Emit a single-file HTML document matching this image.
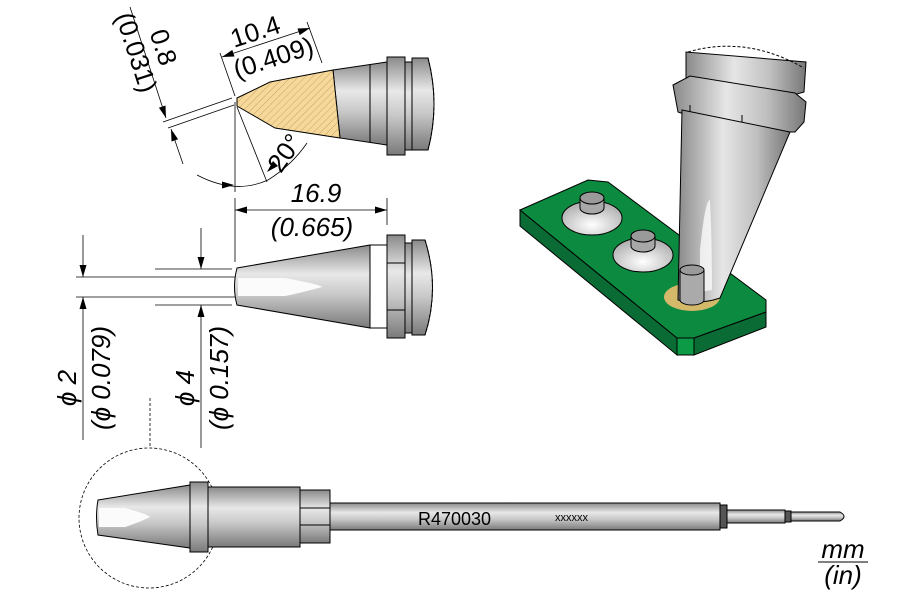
<!DOCTYPE html>
<html><head><meta charset="utf-8"><style>
html,body{margin:0;padding:0;background:#fff;}
svg{display:block;font-family:"Liberation Sans",sans-serif;}
</style></head><body>
<svg width="900" height="600" viewBox="0 0 900 600" xmlns="http://www.w3.org/2000/svg">
<defs>
<linearGradient id="gv" x1="0" y1="0" x2="0" y2="1">
<stop offset="0" stop-color="#8a8a8a"/><stop offset="0.35" stop-color="#e8e8e8"/><stop offset="0.6" stop-color="#c8c8c8"/><stop offset="1" stop-color="#7a7a7a"/></linearGradient>
<linearGradient id="gh" x1="0" y1="0" x2="1" y2="0">
<stop offset="0" stop-color="#8a8a8a"/><stop offset="0.4" stop-color="#e6e6e6"/><stop offset="0.7" stop-color="#c0c0c0"/><stop offset="1" stop-color="#777"/></linearGradient>
<radialGradient id="hole" cx="0.5" cy="0.7" r="0.6"><stop offset="0" stop-color="#fff"/><stop offset="1" stop-color="#b5b5b5"/></radialGradient>
<pattern id="hatch" width="5" height="5" patternUnits="userSpaceOnUse" patternTransform="rotate(45)">
<rect width="5" height="5" fill="#f6d99a"/><line x1="0" y1="0" x2="0" y2="5" stroke="#b8965a" stroke-width="0.8"/></pattern>
</defs>
<g stroke="#000" stroke-width="1" fill="none">
<path d="M333,70 L387,62 L387,145 L340,138 Z" fill="url(#gv)"/>
<line x1="370" y1="64" x2="370" y2="142"/>
<path d="M237,98 L270,82 L333,70 L340,138 L275,128 L237,106 Z" fill="url(#hatch)"/>
<rect x="387" y="57" width="18" height="98" fill="url(#gv)"/>
<rect x="405" y="62" width="7" height="88" fill="url(#gv)"/>
<path d="M412,58 L428,58 Q440,104 428,150 L412,150 Z" fill="url(#gv)"/>
<path d="M428,58 Q440,104 428,150" stroke-dasharray="3,2"/>
<line x1="232" y1="98" x2="163" y2="122" stroke-width="0.8"/>
<line x1="234" y1="105" x2="168" y2="128" stroke-width="0.8"/>
<line x1="130" y1="7" x2="166" y2="118" stroke-width="0.8"/>
<line x1="183" y1="164" x2="171" y2="129" stroke-width="0.8"/>
<line x1="220" y1="53" x2="235" y2="96" stroke-width="0.8"/>
<line x1="307" y1="22" x2="322" y2="63" stroke-width="0.8"/>
<line x1="222" y1="57" x2="310" y2="28" stroke-width="0.8"/>
<line x1="235" y1="102" x2="235" y2="192" stroke-width="0.8"/>
<line x1="237" y1="107" x2="267" y2="182" stroke-width="0.8"/>
<path d="M197,175 Q235,195 268,180" stroke-width="0.8"/>
<path d="M268,180 Q292,165 307,143" stroke-width="0.8"/>
<line x1="235" y1="198" x2="235" y2="262" stroke-width="0.8"/>
<line x1="387" y1="198" x2="387" y2="225" stroke-width="0.8"/>
<line x1="235" y1="210" x2="387" y2="210" stroke-width="0.8"/>
<path d="M237,268 L370,245 L370,328 L237,305 Q232,287 237,268 Z" fill="url(#gv)"/>
<path d="M238,278 L285,278 Q322,285 322,287 Q300,293 285,296 L238,296 Z" fill="#fbfbfb" stroke="none"/>
<rect x="387" y="235" width="18" height="103" fill="url(#gv)"/>
<line x1="387" y1="263" x2="405" y2="263"/><line x1="387" y1="310" x2="405" y2="310"/>
<rect x="405" y="243" width="7" height="90" fill="url(#gv)"/>
<path d="M412,240 L425,240 Q440,288 425,335 L412,335 Z" fill="url(#gv)"/>
<path d="M425,240 Q440,288 425,335" stroke-dasharray="3,2"/>
<line x1="370" y1="245" x2="387" y2="245"/><line x1="370" y1="328" x2="387" y2="328"/>
<line x1="76" y1="277" x2="235" y2="277" stroke-width="0.8"/>
<line x1="76" y1="297" x2="235" y2="297" stroke-width="0.8"/>
<line x1="155" y1="269" x2="232" y2="269" stroke-width="0.8"/>
<line x1="155" y1="305" x2="232" y2="305" stroke-width="0.8"/>
<line x1="83" y1="235" x2="83" y2="277" stroke-width="0.8"/>
<line x1="83" y1="440" x2="83" y2="297" stroke-width="0.8"/>
<line x1="201" y1="228" x2="201" y2="269" stroke-width="0.8"/>
<line x1="201" y1="448" x2="201" y2="305" stroke-width="0.8"/>
<line x1="150" y1="398" x2="150" y2="448" stroke-dasharray="3,2" stroke-width="0.8"/>
<circle cx="149" cy="518" r="70" stroke-dasharray="3,2" stroke-width="0.8"/>
<path d="M98,500 L190,485 L190,548 L98,535 Q95,517 98,500 Z" fill="url(#gv)"/>
<path d="M99,508 L125,508 Q150,515 150,517 Q140,522 125,527 L99,527 Z" fill="#fbfbfb" stroke="none"/>
<rect x="190" y="482" width="18" height="70" fill="url(#gv)"/>
<rect x="208" y="487" width="92" height="60" fill="url(#gv)"/>
<rect x="300" y="490" width="30" height="53" fill="url(#gv)"/>
<line x1="300" y1="508" x2="330" y2="508"/><line x1="300" y1="525" x2="330" y2="525"/>
<rect x="330" y="503" width="390" height="27" fill="url(#gv)"/>
<rect x="720" y="505" width="7" height="23" fill="#555"/>
<rect x="727" y="510" width="58" height="13" fill="url(#gv)"/>
<rect x="785" y="511" width="6" height="11" fill="#555"/>
<path d="M791,512 L840,512 Q848,516.5 840,521 L791,521 Z" fill="url(#gv)"/>
<polygon points="520,210 677,338 677,355 520,226" fill="#0a6b34"/>
<polygon points="677,338 694,338 694,355 677,355" fill="#0d9a47"/>
<polygon points="694,338 766,312 766,327 694,355" fill="#0a6b34"/>
<polygon points="520,210 588,180 608,182 766,300 766,312 694,338 677,338" fill="#0b8a40"/>
<ellipse cx="592" cy="218" rx="30" ry="17" fill="url(#hole)"/>
<path d="M580,198 L580,208 A12,6 0 0 0 604,208 L604,198" fill="#a8a8a8"/>
<ellipse cx="592" cy="198" rx="12" ry="6" fill="#9a9a9a"/>
<ellipse cx="643" cy="255" rx="30" ry="17" fill="url(#hole)"/>
<path d="M631,236 L631,246 A12,6 0 0 0 655,246 L655,236" fill="#a8a8a8"/>
<ellipse cx="643" cy="236" rx="12" ry="6" fill="#9a9a9a"/>
<ellipse cx="692" cy="297" rx="28" ry="14" fill="#d4b96a" stroke="none"/>
<path d="M686,52 L686,90 Q746,110 804,92 L806,62 Z" fill="url(#gh)"/>
<path d="M688,52 Q746,35 804,68" stroke-dasharray="3,2"/>
<path d="M673,85 L690,76 L795,93 L806,102 L804,122 L795,132 L735,132 L678,112 Z" fill="url(#gh)"/>
<line x1="690" y1="105" x2="690" y2="112"/><line x1="742" y1="115" x2="742" y2="132"/>
<path d="M682,110 L790,132 L720,298 Q700,305 678,300 Z" fill="url(#gh)"/>
<path d="M700,250 Q705,200 710,200 Q712,240 712,290 L700,292 Z" fill="#fafafa" stroke="none" opacity="0.8"/>
<path d="M680,270 L680,300 A12,5 0 0 0 704,300 L704,270" fill="#aaa"/>
<ellipse cx="692" cy="270" rx="12" ry="5" fill="#9a9a9a"/>
<line x1="818" y1="562" x2="868" y2="562"/>
</g>
<g fill="#000" stroke="none">
<polygon points="166,118 158.9,107.7 165.5,105.5"/>
<polygon points="171,129 178.1,139.3 171.5,141.5"/>
<polygon points="222,57 232.3,49.9 234.5,56.5"/>
<polygon points="310,28 297.5,28.5 299.7,35.1"/>
<polygon points="234,185 222,181.5 222,188.5"/>
<polygon points="267,172 278,166 273,161"/>
<polygon points="235,210 247,206.5 247,213.5"/>
<polygon points="387,210 375,206.5 375,213.5"/>
<polygon points="83,277 79.5,265 86.5,265"/>
<polygon points="83,297 79.5,309 86.5,309"/>
<polygon points="201,269 197.5,257 204.5,257"/>
<polygon points="201,305 197.5,317 204.5,317"/>
</g>
<g fill="#000" font-size="26">
<text transform="translate(155,50) rotate(72)" text-anchor="middle">0.8</text>
<text transform="translate(128,55) rotate(72)" text-anchor="middle">(0.031)</text>
<text transform="translate(258,40) rotate(-18)" text-anchor="middle">10.4</text>
<text transform="translate(276,66) rotate(-18)" text-anchor="middle">(0.409)</text>
<text transform="translate(292,158) rotate(-55)" text-anchor="middle">20°</text>
<text x="316" y="202" text-anchor="middle" font-style="italic">16.9</text>
<text x="312" y="236" text-anchor="middle" font-style="italic">(0.665)</text>
<text transform="translate(76,388) rotate(-90)" text-anchor="middle" font-style="italic">ϕ 2</text>
<text transform="translate(110,378) rotate(-90)" text-anchor="middle" font-style="italic">(ϕ 0.079)</text>
<text transform="translate(194,388) rotate(-90)" text-anchor="middle" font-style="italic">ϕ 4</text>
<text transform="translate(228,378) rotate(-90)" text-anchor="middle" font-style="italic">(ϕ 0.157)</text>
<text x="418" y="525" font-size="18">R470030</text>
<text x="555" y="521" font-size="11">xxxxxx</text>
<text x="843" y="558" text-anchor="middle" font-style="italic">mm</text>
<text x="843" y="584" text-anchor="middle" font-style="italic">(in)</text>
</g>
</svg>
</body></html>
